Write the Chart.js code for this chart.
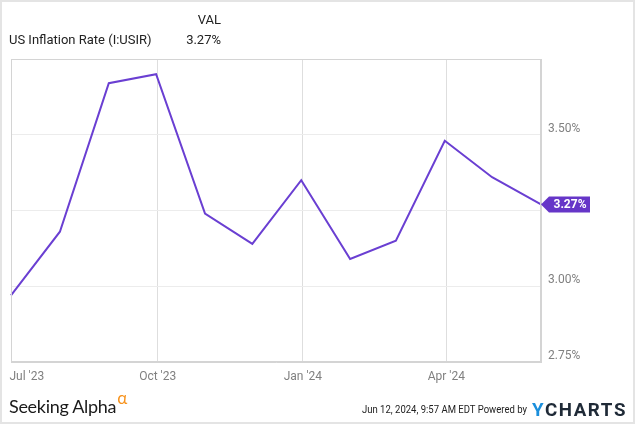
<!DOCTYPE html>
<html>
<head>
<meta charset="utf-8">
<script src="https://cdn.jsdelivr.net/npm/chart.js@4.4.1/dist/chart.umd.min.js"></script>
<style>
  html, body { margin: 0; padding: 0; background: #fff; }
  #wrap { position: relative; width: 635px; height: 424px; overflow: hidden; font-family: Roboto, sans-serif; }
  #chart { position: absolute; left: 0; top: 0; }
  .frame { position: absolute; left: 0; top: 0; width: 635px; height: 424px; box-sizing: border-box; border: 2px solid #e4e4e4; pointer-events: none; }
  .t { position: absolute; white-space: nowrap; color: #222; }
  .fit { transform-origin: 0 50%; }
</style>
</head>
<body>
<div id="wrap">
  <canvas id="chart" width="635" height="424"></canvas>
  <div class="t" style="left:9px; top:32px; font-size:13px;">US Inflation Rate (I:USIR)</div>
  <div class="t" style="left:160px; width:61px; text-align:right; top:12px; font-size:13px;">VAL</div>
  <div class="t" style="left:160px; width:61px; text-align:right; top:32px; font-size:13px;">3.27%</div>
  <div class="t" style="left:9px; top:395px; font-family:Lato, sans-serif; font-size:18px; color:#1a1a1a; letter-spacing:-0.3px;">Seeking Alpha<span style="color:#f7931e; font-size:17px; position:relative; top:-9px; margin-left:1px;">&alpha;</span></div>
  <div class="t fit" data-w="165" style="left:362px; top:403px; font-size:11px; color:#222;">Jun 12, 2024, 9:57 AM EDT Powered by</div>
  <div class="t fit" data-w="95" style="left:532px; top:399px; font-size:18px; font-weight:bold; letter-spacing:1.5px; color:#1f2a37;"><span style="color:#1b8fdc;">Y</span>CHARTS</div>
  <div class="frame"></div>
</div>
<script>
// monthly readings, dated at month end
const dates = ['2023-06-30', '2023-07-31', '2023-08-31', '2023-09-30', '2023-10-31', '2023-11-30',
               '2023-12-31', '2024-01-31', '2024-02-29', '2024-03-31', '2024-04-30', '2024-05-31'];
const values = [2.97, 3.18, 3.67, 3.70, 3.24, 3.14, 3.35, 3.09, 3.15, 3.48, 3.36, 3.27];

const xTickDates = ['2023-07-10', '2023-10-01', '2024-01-01', '2024-04-01'];
const xTickLabels = ["Jul '23", "Oct '23", "Jan '24", "Apr '24"];
const yTicks = [2.75, 3.00, 3.25, 3.50, 3.75];
const yTickLabels = ['2.75%', '3.00%', '', '3.50%', ''];
const lastLabel = '3.27%';

// squeeze footer texts to their width in the original
document.querySelectorAll('.fit').forEach(el => {
  const w = el.getBoundingClientRect().width;
  el.style.transform = 'scaleX(' + (el.dataset.w / w) + ')';
});

const purple = '#6a3fd2';
const day0 = Date.UTC(2023, 5, 30);
function toDay(s) {
  const p = s.split('-');
  return (Date.UTC(+p[0], +p[1] - 1, +p[2]) - day0) / 86400000;
}
const points = dates.map((d, i) => ({ x: toDay(d), y: values[i] }));
const xTickVals = xTickDates.map(toDay);

const lastTag = {
  id: 'lastTag',
  afterDatasetsDraw(chart) {
    const ctx = chart.ctx;
    const x = chart.scales.x.getPixelForValue(points[points.length - 1].x);
    const y = chart.scales.y.getPixelForValue(values[values.length - 1]);
    ctx.save();
    ctx.fillStyle = '#6636c8';
    ctx.beginPath();
    ctx.moveTo(x, y);
    ctx.lineTo(x + 8, y - 8);
    ctx.lineTo(x + 49, y - 8);
    ctx.lineTo(x + 49, y + 8);
    ctx.lineTo(x + 8, y + 8);
    ctx.closePath();
    ctx.fill();
    ctx.fillStyle = '#fff';
    ctx.font = 'bold 12px Roboto';
    ctx.textAlign = 'center';
    ctx.textBaseline = 'middle';
    ctx.fillText(lastLabel, x + 29, y + 0.5);
    ctx.restore();
  }
};

new Chart(document.getElementById('chart'), {
  type: 'line',
  data: {
    datasets: [{
      data: points,
      borderColor: purple,
      borderWidth: 2,
      pointRadius: 0,
      tension: 0,
      clip: false
    }]
  },
  options: {
    responsive: false,
    animation: false,
    layout: { padding: { top: 59, left: 11, right: 0, bottom: 32 } },
    plugins: { legend: { display: false }, tooltip: { enabled: false } },
    scales: {
      x: {
        type: 'linear',
        min: 0,
        max: toDay(dates[dates.length - 1]),
        afterBuildTicks: (s) => { s.ticks = xTickVals.map(v => ({ value: v })); },
        afterFit: (s) => { s.height = 30; },
        ticks: {
          autoSkip: false,
          maxRotation: 0,
          padding: 8,
          color: '#808080',
          font: { family: 'Roboto', size: 12 },
          callback: (v, i) => xTickLabels[i]
        },
        grid: {
          drawTicks: false,
          color: (c) => c.index === 0 ? 'rgba(0,0,0,0)' : '#dedede'
        },
        border: { display: true, color: '#d4d4d4' }
      },
      y: {
        position: 'right',
        min: 2.75,
        max: 3.75,
        afterBuildTicks: (s) => { s.ticks = yTicks.map(v => ({ value: v })); },
        afterFit: (s) => { s.width = 94; },
        ticks: {
          padding: 7,
          labelOffset: -6,
          color: '#808080',
          font: { family: 'Roboto', size: 12 },
          callback: (v, i) => yTickLabels[i]
        },
        grid: { drawTicks: false, color: '#ececec' },
        border: { display: true, color: '#d4d4d4' }
      }
    }
  },
  plugins: [lastTag, {
    id: 'plotBox',
    afterDraw(chart) {
      const a = chart.chartArea, ctx = chart.ctx;
      ctx.save();
      ctx.strokeStyle = '#d4d4d4';
      ctx.lineWidth = 1;
      ctx.strokeRect(a.left + 0.5, a.top + 0.5, a.right - a.left - 1, a.bottom - a.top - 1);
      ctx.restore();
    }
  }]
});
</script>
</body>
</html>
